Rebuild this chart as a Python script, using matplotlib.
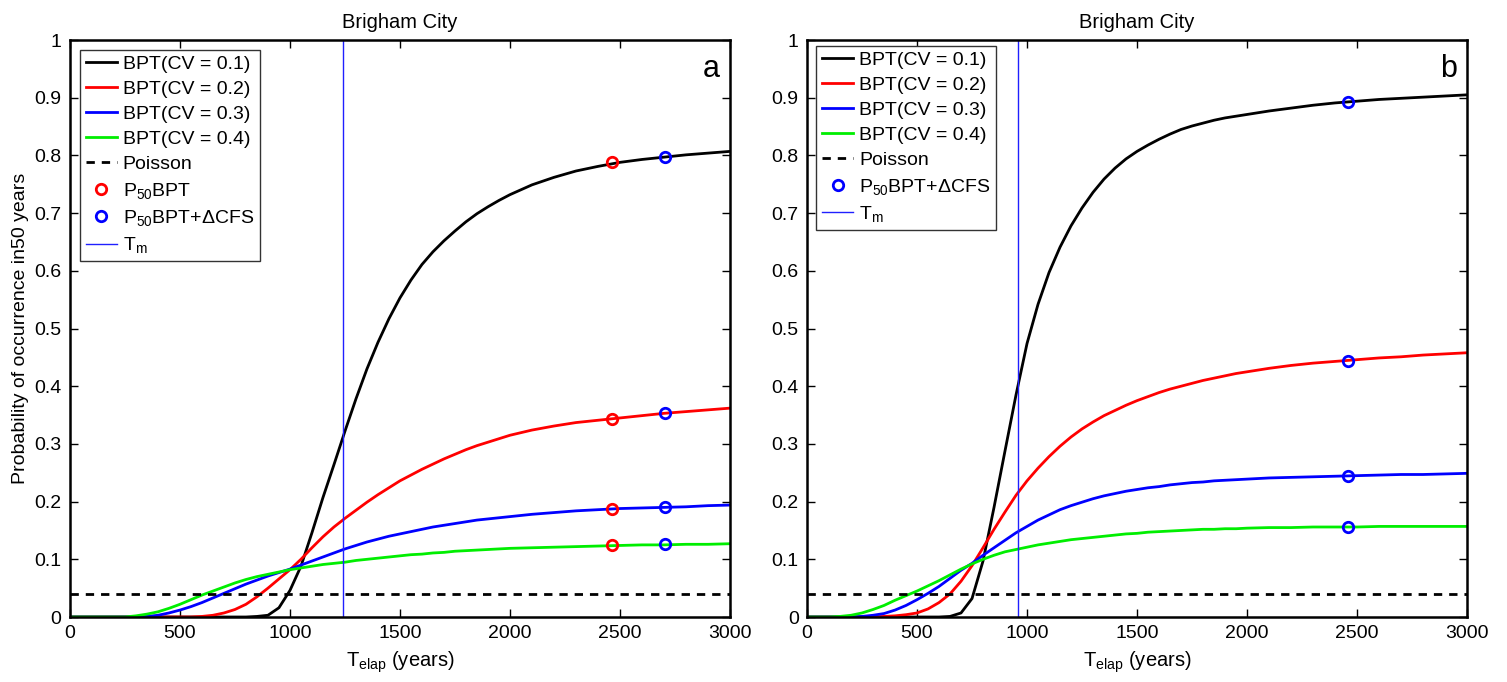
import matplotlib
matplotlib.use("Agg")
import matplotlib.pyplot as plt
from matplotlib.ticker import FuncFormatter

plt.rcParams['font.family'] = ['Liberation Sans', 'DejaVu Sans']
plt.rcParams['mathtext.fontset'] = 'custom'
plt.rcParams['mathtext.rm'] = 'Liberation Sans'
plt.rcParams['mathtext.it'] = 'Liberation Sans'

# elapsed time grid (years)
years = list(range(0, 2001, 50)) + list(range(2100, 3001, 100))

# panel a: BPT conditional probabilities for CV = 0.1 .. 0.4
bpt01_a = [0] * 17 + [0.001, 0.003, 0.016, 0.046, 0.088, 0.146, 0.207, 0.264, 0.322, 0.378,
                      0.43, 0.476, 0.517, 0.553, 0.584, 0.611, 0.633, 0.652, 0.669, 0.685,
                      0.699, 0.711, 0.722, 0.732,
                      0.749, 0.762, 0.773, 0.781, 0.788, 0.793, 0.797, 0.801, 0.804, 0.807]
bpt02_a = [0] * 12 + [0.001, 0.003, 0.007, 0.013, 0.022, 0.035, 0.05, 0.066, 0.082, 0.1,
                      0.12, 0.139, 0.156, 0.171, 0.185, 0.199, 0.212, 0.224, 0.236, 0.246,
                      0.256, 0.265, 0.274, 0.282, 0.29, 0.297, 0.303, 0.309, 0.315,
                      0.324, 0.331, 0.337, 0.341, 0.345, 0.349, 0.353, 0.356, 0.359, 0.362]
bpt03_a = [0] * 7 + [0.001, 0.003, 0.007, 0.012, 0.018, 0.025, 0.033, 0.041, 0.049, 0.057,
                     0.064, 0.071, 0.077, 0.083, 0.09, 0.097, 0.104, 0.111, 0.118, 0.124,
                     0.13, 0.135, 0.14, 0.144, 0.148, 0.152, 0.156, 0.159, 0.162, 0.165,
                     0.168, 0.17, 0.172, 0.174,
                     0.178, 0.181, 0.184, 0.186, 0.188, 0.189, 0.19, 0.191, 0.193, 0.194]
bpt04_a = [0] * 6 + [0.002, 0.005, 0.009, 0.015, 0.022, 0.03, 0.038, 0.045, 0.052, 0.059,
                     0.065, 0.07, 0.074, 0.078, 0.082, 0.085, 0.088, 0.091, 0.093, 0.095,
                     0.098, 0.1, 0.102, 0.104, 0.106, 0.108, 0.109, 0.111, 0.112, 0.114,
                     0.115, 0.116, 0.117, 0.118, 0.119,
                     0.12, 0.121, 0.122, 0.123, 0.124, 0.125, 0.125, 0.126, 0.126, 0.127]

# panel b
bpt01_b = [0] * 13 + [0.001, 0.007, 0.032, 0.097, 0.19, 0.288, 0.385, 0.474, 0.542, 0.597,
                      0.641, 0.678, 0.709, 0.736, 0.759, 0.778, 0.794, 0.807, 0.818, 0.828,
                      0.837, 0.845, 0.851, 0.856, 0.861, 0.865, 0.868, 0.871,
                      0.877, 0.882, 0.887, 0.891, 0.894, 0.897, 0.899, 0.901, 0.903, 0.905]
bpt02_b = [0] * 7 + [0.001, 0.002, 0.004, 0.007, 0.014, 0.025, 0.04, 0.062, 0.089, 0.12,
                     0.152, 0.182, 0.211, 0.236, 0.258, 0.278, 0.296, 0.312, 0.326, 0.338,
                     0.349, 0.358, 0.367, 0.375, 0.382, 0.389, 0.395, 0.4, 0.405, 0.41,
                     0.414, 0.418, 0.422, 0.425,
                     0.431, 0.436, 0.44, 0.443, 0.446, 0.449, 0.451, 0.454, 0.456, 0.458]
bpt03_b = [0] * 5 + [0.001, 0.003, 0.006, 0.012, 0.02, 0.03, 0.041, 0.053, 0.067, 0.081,
                     0.093, 0.107, 0.12, 0.133, 0.146, 0.157, 0.168, 0.177, 0.186, 0.193,
                     0.199, 0.205, 0.21, 0.214, 0.218, 0.221, 0.224, 0.226, 0.229, 0.231,
                     0.233, 0.234, 0.236, 0.237, 0.238, 0.239,
                     0.241, 0.242, 0.243, 0.244, 0.245, 0.246, 0.247, 0.247, 0.248, 0.249]
bpt04_b = [0] * 3 + [0.001, 0.003, 0.007, 0.013, 0.02, 0.029, 0.037, 0.045, 0.054, 0.063,
                     0.073, 0.083, 0.092, 0.1, 0.107, 0.113, 0.117, 0.121, 0.125, 0.128,
                     0.131, 0.134, 0.136, 0.138, 0.14, 0.142, 0.144, 0.145, 0.147, 0.148,
                     0.149, 0.15, 0.151, 0.152, 0.152, 0.153, 0.153, 0.154,
                     0.155, 0.155, 0.156, 0.156, 0.156, 0.157, 0.157, 0.157, 0.157, 0.157]

poisson = 0.04
tm_a, tm_b = 1240, 961

# P50 points (BPT alone and with CFS change)
t50_a, p50_a = 2462, [0.789, 0.343, 0.187, 0.125]
tcfs_a, pcfs_a = 2706, [0.797, 0.353, 0.190, 0.126]
tcfs_b, pcfs_b = 2461, [0.893, 0.444, 0.244, 0.156]

colors = ['black', 'red', 'blue', '#00ee00']
cv_labels = ['BPT(CV = 0.1)', 'BPT(CV = 0.2)', 'BPT(CV = 0.3)', 'BPT(CV = 0.4)']

for s in (bpt01_a, bpt02_a, bpt03_a, bpt04_a, bpt01_b, bpt02_b, bpt03_b, bpt04_b):
    assert len(s) == len(years), len(s)

fig = plt.figure(figsize=(15.07, 6.82), dpi=100)
ax_a = fig.add_axes([0.0464, 0.0953, 0.438, 0.846])
ax_b = fig.add_axes([0.5355, 0.0953, 0.438, 0.846])


def draw_panel(ax, curves, tm, points, tag, leg_anchor):
    for y, c, lab in zip(curves, colors, cv_labels):
        ax.plot(years, y, color=c, lw=2, label=lab)
    ax.axhline(poisson, color='black', ls=(0, (3, 2.5)), lw=2, label='Poisson')
    for t, vals, c, lab in points:
        ax.plot([t] * len(vals), vals, 'o', ms=7.5, mfc='none', mec=c, mew=2, label=lab)
    ax.axvline(tm, color='#2020ff', lw=1, label='T$_{\\rm m}$')

    ax.set_xlim(0, 3000)
    ax.set_ylim(0, 1)
    ax.set_xticks(range(0, 3001, 500))
    ax.set_yticks([i / 10 for i in range(11)])
    ax.yaxis.set_major_formatter(FuncFormatter(lambda v, p: f'{v:g}'))
    ax.tick_params(direction='in', top=True, right=True, length=6, width=1,
                   labelsize=14, pad=6)
    for s in ax.spines.values():
        s.set_linewidth(1.8)
    ax.set_title('Brigham City', fontsize=14.5, pad=9)
    ax.set_xlabel('T$_{\\rm elap}$ (years)', fontsize=14.5, labelpad=5)
    ax.text(0.985, 0.975, tag, transform=ax.transAxes, ha='right', va='top', fontsize=22)

    leg = ax.legend(loc='upper left', bbox_to_anchor=leg_anchor, borderaxespad=0,
                    fontsize=14, handlelength=1.6, handletextpad=0.3, labelspacing=0.38,
                    fancybox=False, framealpha=1, edgecolor='#333333', borderpad=0.3)
    leg.get_frame().set_linewidth(1)


draw_panel(ax_a, [bpt01_a, bpt02_a, bpt03_a, bpt04_a], tm_a,
           [(t50_a, p50_a, 'red', 'P$_{\\rm 50}$BPT'),
            (tcfs_a, pcfs_a, 'blue', 'P$_{\\rm 50}$BPT+ΔCFS')], 'a', (0.015, 0.983))
draw_panel(ax_b, [bpt01_b, bpt02_b, bpt03_b, bpt04_b], tm_b,
           [(tcfs_b, pcfs_b, 'blue', 'P$_{\\rm 50}$BPT+ΔCFS')], 'b', (0.014, 0.99))

ax_a.set_ylabel('Probability of occurrence in50 years', fontsize=14, labelpad=4)

fig.savefig('out.png', dpi=100)
